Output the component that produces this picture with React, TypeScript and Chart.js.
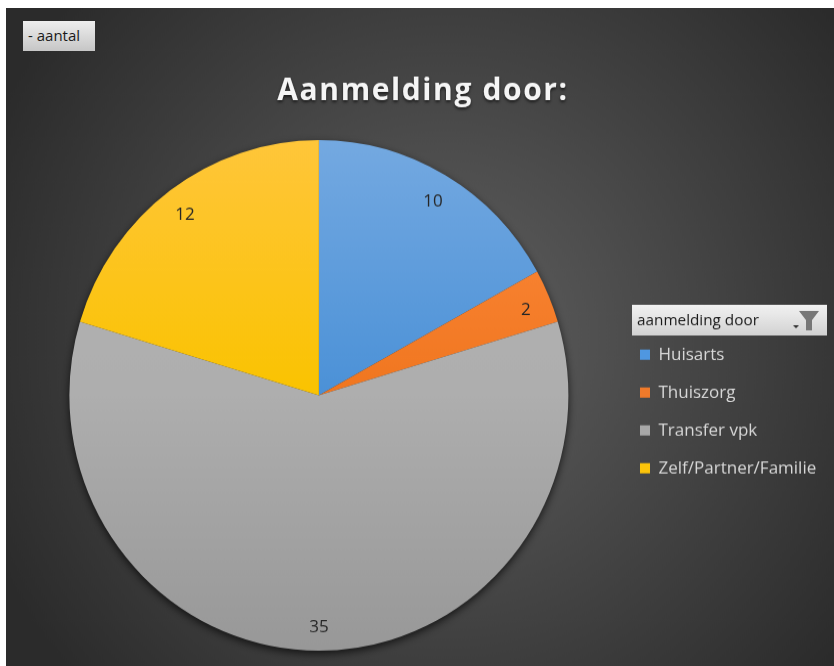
import React, { useEffect, useRef } from "react";
import { Chart, registerables } from "chart.js";

Chart.register(...registerables);

const categories = ["Huisarts", "Thuiszorg", "Transfer vpk", "Zelf/Partner/Familie"];
const values = [10, 2, 35, 12];
const topColors = ["#74a9e1", "#ff8c40", "#b4b4b4", "#ffc63a"];
const midColors = ["#4b91d7", "#f0761f", "#aeaeae", "#fac300"];
const bottomColors = ["#4b91d7", "#f0761f", "#989898", "#fac300"];
const legendColors = ["#4f97e0", "#f07a2a", "#a8a8a8", "#fcc40a"];
const titleText = "Aanmelding door:";
const legendHeading = "aanmelding door";
const fieldButton = "- aantal";

const FONT = '"Open Sans", sans-serif';
const CANVAS_W = 828;
const CANVAS_H = 643;
const STRETCH_Y = 658 / 643;

const look = {
  id: "look",
  afterInit(chart: any) {
    const block = chart.titleBlock;
    const orig = block.draw.bind(block);
    block.draw = () => {
      const c = chart.ctx;
      c.save();
      c.letterSpacing = "1.6px";
      c.shadowColor = "rgba(0,0,0,0.6)";
      c.shadowBlur = 3;
      c.shadowOffsetY = 2;
      orig();
      c.restore();
    };
    const lg = chart.legend;
    const origTitle = lg.drawTitle.bind(lg);
    lg.drawTitle = () => {
      const c = chart.ctx;
      c.save();
      c.translate(17, 6);
      origTitle();
      c.restore();
    };
  },
  afterLayout(chart: any) {
    chart.titleBlock.left = 6;
    chart.titleBlock.right = 828;
    const lg = chart.legend;
    const w = lg.right - lg.left;
    lg.left = 614;
    lg.right = 614 + w;
    const h = lg.bottom - lg.top;
    lg.top = 288;
    lg.bottom = 288 + h;
  },
  beforeDraw(chart: any) {
    const c = chart.ctx;
    const { width, height } = chart;
    const g = c.createRadialGradient(width * 0.53, height * 0.5, 10, width * 0.53, height * 0.5, 500);
    g.addColorStop(0, "#5f5f5f");
    g.addColorStop(1, "#2b2b2b");
    c.fillStyle = g;
    c.fillRect(0, 0, width, height);
    const hg = c.createLinearGradient(0, 290, 0, 320);
    hg.addColorStop(0, "#f2f2f2");
    hg.addColorStop(1, "#d2d2d2");
    c.fillStyle = hg;
    c.fillRect(626, 290, 195, 30);
    c.fillStyle = "#777777";
    c.beginPath();
    c.moveTo(793, 296);
    c.lineTo(813, 296);
    c.lineTo(806, 305);
    c.lineTo(806, 315);
    c.lineTo(800, 315);
    c.lineTo(800, 305);
    c.closePath();
    c.fill();
    c.fillStyle = "#333333";
    c.beginPath();
    c.moveTo(787, 310);
    c.lineTo(793, 310);
    c.lineTo(790, 313);
    c.closePath();
    c.fill();
  },
  beforeDatasetsDraw(chart: any) {
    const c = chart.ctx;
    const arc = chart.getDatasetMeta(0).data[0];
    const p = arc.getProps(["x", "y", "outerRadius"], true);
    c.save();
    c.shadowColor = "rgba(0,0,0,0.75)";
    c.shadowBlur = 9;
    c.shadowOffsetY = 3;
    c.fillStyle = "#333333";
    c.beginPath();
    c.arc(p.x, p.y, p.outerRadius - 0.5, 0, Math.PI * 2);
    c.fill();
    c.restore();
  },
  afterDatasetsDraw(chart: any) {
    const c = chart.ctx;
    const meta = chart.getDatasetMeta(0);
    c.save();
    c.font = `17px ${FONT}`;
    c.fillStyle = "#262626";
    c.textAlign = "center";
    c.textBaseline = "middle";
    meta.data.forEach((arc: any, i: number) => {
      const p = arc.getProps(["x", "y", "startAngle", "endAngle", "outerRadius"], true);
      const mid = (p.startAngle + p.endAngle) / 2;
      c.fillText(String(values[i]), p.x + Math.cos(mid) * p.outerRadius * 0.9, p.y + Math.sin(mid) * p.outerRadius * 0.895 + 3);
    });
    c.restore();
  },
};

export default function App() {
  const ref = useRef<HTMLCanvasElement>(null);
  useEffect(() => {
    const chart = new Chart(ref.current!, {
      type: "pie",
      data: {
        labels: categories,
        datasets: [
          {
            data: values,
            borderWidth: 0,
            backgroundColor: (ctx: any) => {
              const i = ctx.dataIndex;
              const area = ctx.chart.chartArea;
              if (!area) return legendColors[i];
              const g = ctx.chart.ctx.createLinearGradient(0, area.top, 0, area.bottom);
              g.addColorStop(0, topColors[i]);
              g.addColorStop(0.5, midColors[i]);
              g.addColorStop(1, bottomColors[i]);
              return g;
            },
          },
        ],
      },
      plugins: [look],
      options: {
        animation: false,
        responsive: false,
        layout: { padding: { left: 11, right: 7, top: 0, bottom: 15 } },
        plugins: {
          tooltip: { enabled: false },
          title: {
            display: true,
            text: titleText,
            color: "#f5f5f5",
            font: { family: FONT, size: 30, weight: "bold" },
            padding: { top: 63, bottom: 30 },
          },
          legend: {
            display: true,
            position: "right",
            align: "start",
            onClick: () => {},
            title: {
              display: true,
              text: legendHeading,
              color: "#1a1a1a",
              position: "start",
              font: { family: FONT, size: 15.3 },
              padding: { top: 4, bottom: 0 },
            },
            labels: {
              boxWidth: 10,
              boxHeight: 10,
              padding: 20,
              color: "#d8d8d8",
              font: { family: FONT, size: 17 },
              generateLabels: () =>
                categories.map((text, i) => ({
                  text,
                  fillStyle: legendColors[i],
                  strokeStyle: legendColors[i],
                  fontColor: "#d8d8d8",
                  lineWidth: 0,
                  hidden: false,
                  index: i,
                })),
            },
          },
        },
      },
    } as any);
    return () => chart.destroy();
  }, []);
  return (
    <div style={{ position: "absolute", left: 0, top: 0, width: 834, height: 666, background: "#fff", overflow: "hidden" }}>
      <canvas
        ref={ref}
        width={CANVAS_W}
        height={CANVAS_H}
        style={{
          position: "absolute",
          left: 6,
          top: 8,
          width: CANVAS_W,
          height: CANVAS_H,
          transform: `scaleY(${STRETCH_Y})`,
          transformOrigin: "0 0",
        }}
      />
      <div
        style={{
          position: "absolute",
          left: 23,
          top: 21,
          width: 72,
          height: 30,
          boxSizing: "border-box",
          paddingLeft: 5,
          lineHeight: "28px",
          fontFamily: FONT,
          fontSize: 15,
          color: "#1a1a1a",
          background: "linear-gradient(#eeeeee, #c6c6c6)",
        }}
      >
        {fieldButton}
      </div>
    </div>
  );
}
